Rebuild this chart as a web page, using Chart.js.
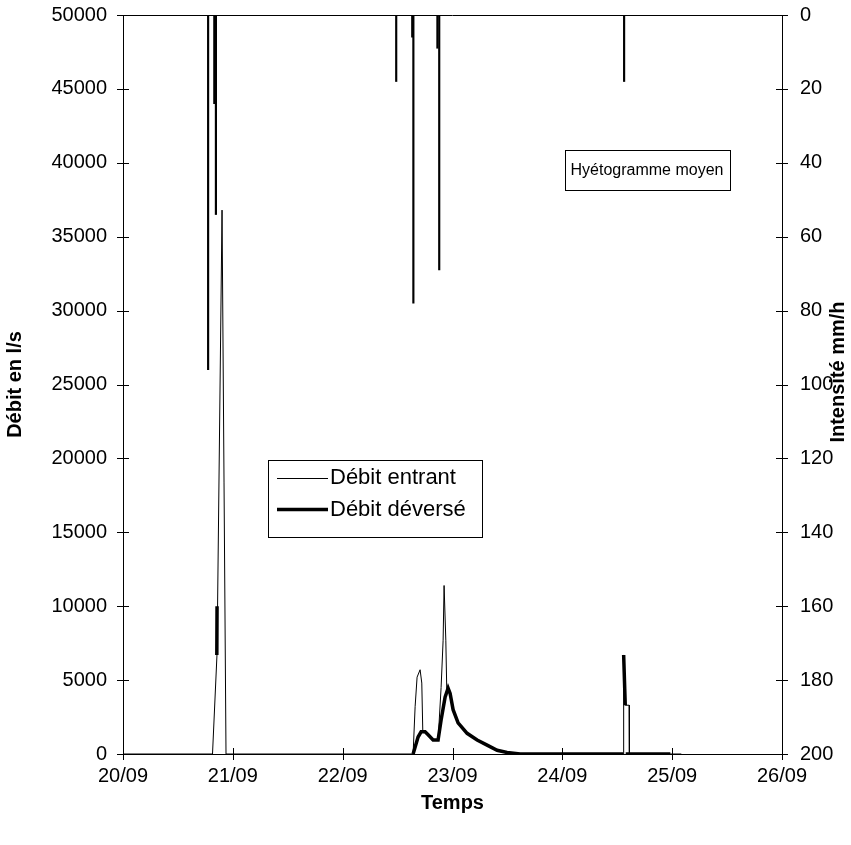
<!DOCTYPE html>
<html>
<head>
<meta charset="utf-8">
<script src="https://cdn.jsdelivr.net/npm/chart.js@4.4.0/dist/chart.umd.min.js"></script>
<style>
  html, body { margin: 0; padding: 0; background: #fff; }
  #wrap { width: 851px; height: 845px; }
</style>
</head>
<body>
<div id="wrap"><canvas id="chart" width="851" height="845"></canvas></div>
<script>
// heures depuis le 20/09 00:00
const jours = ["20/09", "21/09", "22/09", "23/09", "24/09", "25/09", "26/09"];

const entrantHeures = [0, 19.56, 20.55, 21.64, 22.51, 63.39, 63.83, 64.26, 64.92, 65.29, 65.51, 66.01, 66.67, 67.76, 68.85, 69.07, 69.51, 69.95, 70.16, 70.54, 70.75, 71.04, 71.48, 72.13, 73.22, 75.19, 77.38, 79.56, 81.75, 83.93, 86.78, 109.3, 109.4, 109.75, 110.6, 110.65, 122];
const entrantValeurs = [0, 0, 6800, 36800, 0, 0, 3200, 5200, 5700, 4800, 1500, 1500, 1300, 950, 950, 2100, 4500, 7700, 11400, 7700, 4300, 4450, 4100, 3000, 2100, 1400, 950, 600, 250, 100, 0, 0, 6700, 3300, 3300, 0, 0];

const deverseHeures = [20.5, 20.55, 20.6, 63.39, 64.48, 65.14, 66.01, 66.67, 67.76, 68.85, 69.51, 70.38, 71.04, 71.48, 72.13, 73.22, 75.19, 77.38, 79.56, 81.75, 83.93, 86.78, 109.3, 109.35, 109.4, 109.75, 109.8, 109.85, 119.6];
const deverseValeurs = [6700, 10000, null, 0, 1150, 1500, 1500, 1300, 950, 950, 2300, 3850, 4450, 4100, 3000, 2100, 1400, 950, 600, 250, 100, 0, 0, null, 6700, 3300, null, 0, 0];

const pluieHeures = [18.6, 19.95, 20.3, 59.7, 63.2, 63.45, 68.7, 69.1, 109.5];
const pluieValeurs = [96, 24, 54, 18, 6, 78, 9, 69, 18];

const police = "'Liberation Sans', Arial, sans-serif";

function points(hs, vs) {
  return hs.map((h, i) => ({ x: h, y: vs[i] }));
}

const decor = {
  id: "decor",
  afterDraw(chart) {
    const ctx = chart.ctx;
    const a = chart.chartArea;
    const sx = chart.scales.x, sy = chart.scales.y, sy2 = chart.scales.y2;
    ctx.save();
    ctx.strokeStyle = "#000";
    ctx.lineWidth = 1;
    ctx.beginPath();
    // bord du haut
    ctx.moveTo(a.left, Math.round(a.top) + 0.5);
    ctx.lineTo(a.right, Math.round(a.top) + 0.5);
    // graduations qui traversent les axes
    sy.ticks.forEach(t => {
      const p = Math.round(sy.getPixelForValue(t.value)) + 0.5;
      ctx.moveTo(a.left - 6, p); ctx.lineTo(a.left + 6, p);
    });
    sy2.ticks.forEach(t => {
      const p = Math.round(sy2.getPixelForValue(t.value)) + 0.5;
      ctx.moveTo(a.right - 6, p); ctx.lineTo(a.right + 6, p);
    });
    sx.ticks.forEach(t => {
      const p = Math.round(sx.getPixelForValue(t.value)) + 0.5;
      ctx.moveTo(p, a.bottom - 6); ctx.lineTo(p, a.bottom + 6);
    });
    ctx.stroke();

    // titre de l'axe droit
    ctx.fillStyle = "#000";
    ctx.font = "bold 20px " + police;
    ctx.textAlign = "center";
    ctx.textBaseline = "middle";
    ctx.translate(838, 372);
    ctx.rotate(-Math.PI / 2);
    ctx.fillText("Intensité mm/h", 0, 0);
    ctx.restore();

    // légende
    ctx.save();
    ctx.strokeStyle = "#000";
    ctx.fillStyle = "#000";
    ctx.lineWidth = 1;
    ctx.strokeRect(268.5, 460.5, 214, 77);
    ctx.beginPath();
    ctx.moveTo(277, 478.5); ctx.lineTo(328, 478.5);
    ctx.stroke();
    ctx.lineWidth = 3.5;
    ctx.beginPath();
    ctx.moveTo(277, 509.5); ctx.lineTo(328, 509.5);
    ctx.stroke();
    ctx.font = "22px " + police;
    ctx.textAlign = "left";
    ctx.textBaseline = "middle";
    ctx.fillText("Débit entrant", 330, 478);
    ctx.fillText("Débit déversé", 330, 510);

    // étiquette hyétogramme
    ctx.font = "16px " + police;
    ctx.textAlign = "center";
    const w = ctx.measureText("Hyétogramme moyen").width;
    ctx.lineWidth = 1;
    ctx.strokeRect(Math.round(647 - w / 2 - 6) + 0.5, 150.5, Math.round(w + 12), 40);
    ctx.fillText("Hyétogramme moyen", 647, 171);
    ctx.restore();
  }
};

new Chart(document.getElementById("chart"), {
  type: "line",
  data: {
    datasets: [
      {
        type: "bar",
        label: "Hyétogramme moyen",
        data: points(pluieHeures, pluieValeurs),
        xAxisID: "x",
        yAxisID: "y2",
        backgroundColor: "#000",
        barThickness: 1.5,
        grouped: false
      },
      {
        label: "Débit entrant",
        data: points(entrantHeures, entrantValeurs),
        yAxisID: "y",
        borderColor: "#000",
        borderWidth: 1,
        pointRadius: 0,
        tension: 0,
        spanGaps: false
      },
      {
        label: "Débit déversé",
        data: points(deverseHeures, deverseValeurs),
        yAxisID: "y",
        borderColor: "#000",
        borderWidth: 3.5,
        pointRadius: 0,
        tension: 0,
        spanGaps: false
      }
    ]
  },
  options: {
    responsive: false,
    animation: false,
    devicePixelRatio: 1,
    layout: { padding: { top: 15, left: 0, right: 0, bottom: 0 } },
    plugins: { legend: { display: false }, tooltip: { enabled: false } },
    scales: {
      x: {
        type: "linear",
        min: 0,
        max: 144,
        offset: false,
        grid: { display: false, drawTicks: false },
        border: { display: true, color: "#000", width: 1 },
        ticks: {
          stepSize: 24,
          autoSkip: false,
          maxRotation: 0,
          padding: 10,
          color: "#000",
          font: { family: police, size: 20 },
          callback: v => jours[v / 24]
        },
        title: {
          display: true,
          text: "Temps",
          color: "#000",
          font: { family: police, size: 20, weight: "bold" },
          padding: { top: 4, bottom: 30 }
        },
        afterFit: s => { s.height = 91; s.paddingLeft = 0; s.paddingRight = 0; }
      },
      y: {
        position: "left",
        min: 0,
        max: 50000,
        grid: { display: false, drawTicks: false },
        border: { display: true, color: "#000", width: 1 },
        ticks: {
          stepSize: 5000,
          padding: 16,
          color: "#000",
          font: { family: police, size: 20 },
          callback: v => String(v)
        },
        title: {
          display: true,
          text: "Débit en l/s",
          color: "#000",
          font: { family: police, size: 20, weight: "bold" },
          padding: { top: 3, bottom: 4 }
        },
        afterFit: s => { s.width = 123; s.paddingTop = 0; s.paddingBottom = 0; }
      },
      y2: {
        position: "right",
        min: 0,
        max: 200,
        reverse: true,
        grid: { display: false, drawTicks: false },
        border: { display: true, color: "#000", width: 1 },
        ticks: {
          stepSize: 20,
          padding: 18,
          color: "#000",
          font: { family: police, size: 20 },
          callback: v => String(v)
        },
        afterFit: s => { s.width = 69; s.paddingTop = 0; s.paddingBottom = 0; }
      }
    }
  },
  plugins: [decor]
});
</script>
</body>
</html>
